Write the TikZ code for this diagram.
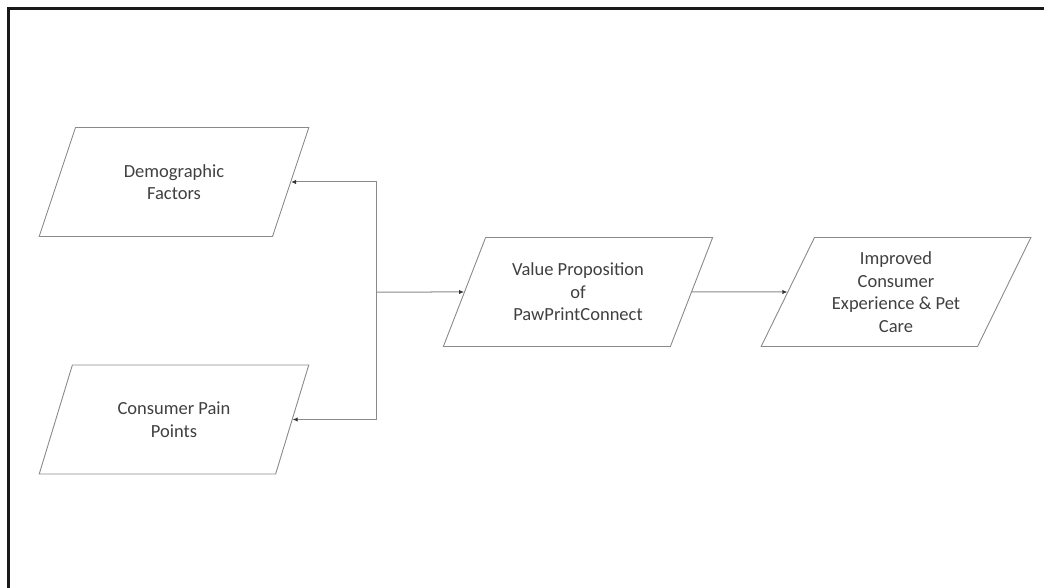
\documentclass[tikz,border=0pt]{standalone}
\usepackage{fontspec}
\setmainfont{Carlito}
\usetikzlibrary{shapes.geometric,arrows.meta}
\definecolor{linegray}{HTML}{8A8A8A}
\definecolor{textgray}{HTML}{404040}
\tikzset{
  para/.style={draw=linegray, line width=0.9pt, trapezium,
    trapezium left angle=62.5, trapezium right angle=117.5,
    trapezium stretches=true,
    minimum width=270pt, minimum height=109pt, inner sep=0pt,
    align=center, text=textgray, font=\fontsize{18.5}{22.5}\selectfont},
  conn/.style={draw=linegray, line width=1pt, -{Latex[length=5pt,width=4.5pt,color=black!80]}}
}
\begin{document}
\begin{tikzpicture}[x=1pt,y=-1pt]
\useasboundingbox (0,0) rectangle (1044,588);
\begin{scope}
\clip (0,0) rectangle (1044,588);
\draw[line width=2.2pt, black!90] (8.5,8.5) rectangle (1060,600);
\end{scope}
\node[para] (demo) at (174,182) {Demographic\\Factors};
\node[para] (cons) at (174,419.5) {Consumer Pain\\Points};
\node[para] (value) at (578,292) {Value Proposition\\of\\PawPrintConnect};
\node[para] (impr) at (896,292) {Improved\\Consumer\\Experience \& Pet\\Care};
\coordinate (j) at (376,292);
\draw[conn] (j) |- (demo.east);
\draw[conn] (j) |- (cons.east);
\draw[conn] (j) -- (value.west);
\draw[conn] (value.east) -- (impr.west);
\end{tikzpicture}
\end{document}
